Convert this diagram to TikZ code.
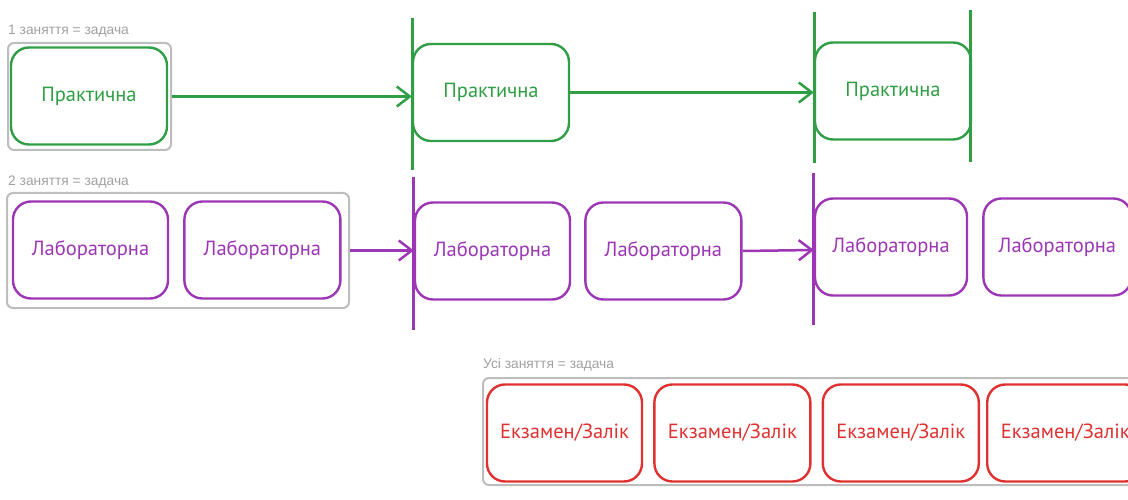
\documentclass[tikz,border=0pt]{standalone}
\usepackage{fontspec}
\setmainfont{PT Sans}
\setsansfont{Liberation Sans}
\usetikzlibrary{arrows.meta,positioning}
\definecolor{pracgreen}{HTML}{2F9E44}
\definecolor{labpurple}{HTML}{9C36B5}
\definecolor{examred}{HTML}{E03131}
\definecolor{groupgray}{HTML}{BDBDBD}
\definecolor{notegray}{HTML}{A0A0A0}

\begin{document}
\begin{tikzpicture}[
  x=1pt,y=-1pt,
  task/.style={draw=#1,text=#1,line width=2.4pt,rounded corners=18pt,fill=white,minimum width=156pt,minimum height=97pt,inner sep=0pt,font=\fontsize{20.5}{24}\selectfont},
  group/.style={draw=groupgray,line width=2pt,rounded corners=6pt,inner sep=0pt},
  note/.style={text=notegray,anchor=west,inner sep=0pt,font=\sffamily\fontsize{13.8}{16}\selectfont},
  arrow/.style={draw=#1,line width=2.5pt,-{Straight Barb[length=13pt,width=20pt]}},
  bar/.style={draw=#1,line width=3pt}
]
\useasboundingbox (0,0) rectangle (1128,500);
\clip (0,0) rectangle (1128,500);

\node[note] (note1) at (8,31) {1 заняття = задача};
\node[group,minimum width=163pt,minimum height=107pt] (grp1) at (89.5,96.5) {};
\node[task=pracgreen] (prak1) at (89,96) {Практична};
\node[task=pracgreen] (prak2) at (491,92.5) {Практична};
\node[task=pracgreen] (prak3) at (893,91) {Практична};
\draw[bar=pracgreen] (412,18) -- (412,170);
\draw[bar=pracgreen] (814,12) -- (814,163);
\draw[bar=pracgreen] (970,10) -- (970,162);
\draw[arrow=pracgreen] (grp1.east) -- (grp1.east -| prak2.west);
\draw[arrow=pracgreen] (prak2.east) -- (prak2.east -| prak3.west);

\node[note] (note2) at (8,182) {2 заняття = задача};
\node[group,minimum width=342pt,minimum height=115pt] (grp2) at (178,250.5) {};
\node[task=labpurple,minimum width=155pt] (lab1) at (90.5,250) {Лабораторна};
\node[task=labpurple,right=14pt of lab1] (lab2) {Лабораторна};
\node[task=labpurple,minimum width=155pt] (lab3) at (492.5,251) {Лабораторна};
\node[task=labpurple,right=13pt of lab3] (lab4) {Лабораторна};
\node[task=labpurple,minimum width=152pt] (lab5) at (891,247) {Лабораторна};
\node[task=labpurple,minimum width=148pt,right=14pt of lab5] (lab6) {Лабораторна};
\draw[bar=labpurple] (413,177) -- (413,330);
\draw[bar=labpurple] (813,173) -- (813,325);
\draw[arrow=labpurple] (grp2.east) -- (grp2.east -| lab3.west);
\draw[arrow=labpurple] (lab4.east) -- ([yshift=1pt]lab4.east -| lab5.west);

\node[note] (note3) at (483,365) {Усі заняття = задача};
\node[group,minimum width=680pt,minimum height=107pt] (grp3) at (823,431.5) {};
\node[task=examred,minimum width=155pt] (exam1) at (564.5,433) {Екзамен/Залік};
\node[task=examred,right=10pt of exam1] (exam2) {Екзамен/Залік};
\node[task=examred,right=10pt of exam2] (exam3) {Екзамен/Залік};
\node[task=examred,right=6pt of exam3] (exam4) {Екзамен/Залік};
\end{tikzpicture}
\end{document}
